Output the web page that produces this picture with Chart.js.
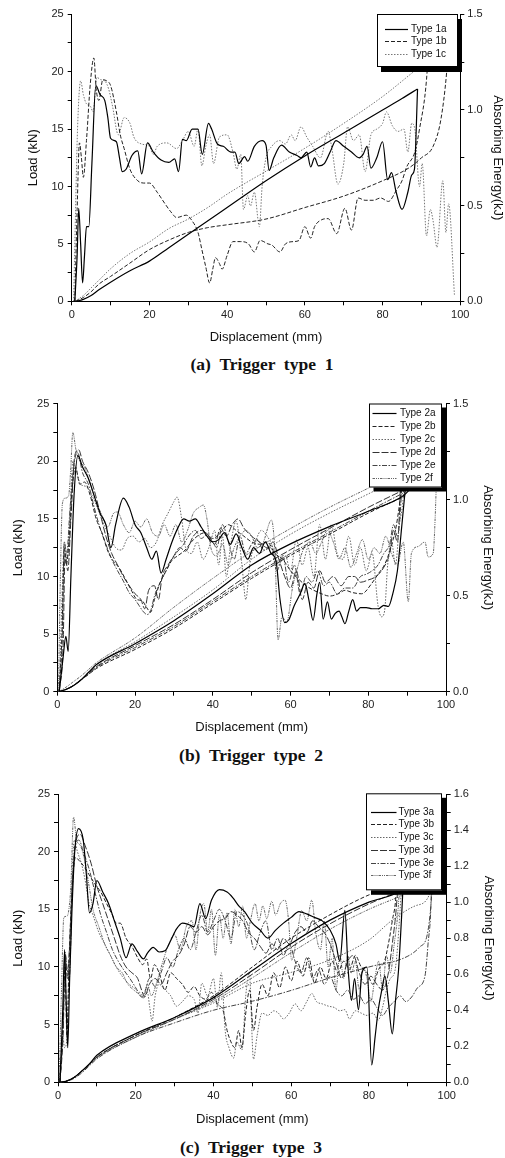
<!DOCTYPE html>
<html>
<head>
<meta charset="utf-8">
<script src="https://cdn.jsdelivr.net/npm/chart.js@4.4.1/dist/chart.umd.min.js"></script>
<style>
  body { margin: 0; background: #fff; width: 505px; height: 1158px; position: relative; overflow: hidden; }
  .panel { position: absolute; left: 0; width: 505px; }
  .cap { position: absolute; width: 200px; text-align: center; white-space: pre; font: bold 17.5px "Liberation Serif", "Times New Roman", serif; line-height: 20px; color: #111; }
</style>
</head>
<body>
<div class="panel" style="top:0;height:350px"><canvas id="chart1"></canvas></div>
<div class="cap" style="left:162px;top:354px">(a)  Trigger  type  1</div>
<div class="panel" style="top:380px;height:360px"><canvas id="chart2"></canvas></div>
<div class="cap" style="left:151px;top:745px">(b)  Trigger  type  2</div>
<div class="panel" style="top:770px;height:360px"><canvas id="chart3"></canvas></div>
<div class="cap" style="left:151px;top:1137px">(c)  Trigger  type  3</div>

<script>
// ---- trigger type 1 : [displacement mm, load kN] / [displacement mm, energy kJ]
const types1 = ['Type 1a', 'Type 1b', 'Type 1c'];
const load1a = [[0.8,0],[1.4,4],[1.8,8.1],[2.3,5],[2.8,1.6],[3.3,4],[3.8,6.5],[4.4,6.5],[5.2,12],[6.2,18.8],[7.3,18],[8.5,17.5],[9.3,16],[10,14.2],[11.5,13.9],[12.3,12.5],[13,11.3],[14,11.5],[15.5,12.7],[17,13.1],[18,11.1],[19.5,13.8],[21,13],[23,12.3],[25,12.1],[26.5,12.4],[27.5,11.3],[28.5,14.1],[29.5,14],[31,15],[32.5,15],[33.6,12.8],[35.2,15.5],[36,15],[37.5,13.7],[39,13.5],[41,13],[42,13],[43,12],[44.5,12.6],[45.3,12.2],[47,13.5],[49,14],[50,13.6],[50.8,11.4],[52,12.5],[54,13.6],[56,13],[58,12.7],[59,12.5],[60.5,13],[61.5,11.7],[62.5,12.5],[63.5,11.8],[65,12],[66.5,13],[68,14],[70,13.5],[72,13],[74,12.5],[75,12.8],[76,13.5],[77,11.6],[78.5,12.5],[80,13.9],[81.3,10.6],[82.3,11.2],[83.5,9.5],[85,8],[86.5,9.5],[87.5,11],[88.2,11.5],[89,18.5]];
const load1b = [[0.8,0],[1.4,8],[2,13.8],[2.5,12.5],[3,10.8],[3.8,14],[4.8,19],[5.7,21.2],[6.3,18.5],[7,17.5],[8,19.3],[9,19.2],[10,18.8],[11.5,16.5],[12.5,14.5],[13.5,13.3],[15,11.5],[17,10.5],[18.5,10.3],[20,10.3],[22,9.5],[24,8.5],[25.5,7.8],[27,7.3],[29.5,7.5],[31,7],[32.5,6],[33.5,4.5],[34.5,3],[35.5,1.6],[36.3,2.8],[37,3.8],[38,3.3],[38.7,2.8],[40,4],[41.5,5.2],[43.5,5.2],[45.5,5],[47,4.3],[48.5,5.3],[50.5,5],[51.5,4.9],[53.6,4.3],[55,5],[57,5.2],[58.5,5.3],[60,6.5],[61.5,5.5],[62.5,6.5],[64.3,7.1],[66,7.2],[68.2,5.9],[70.3,8.1],[72,6.2],[73.7,9],[75.5,8.8],[77.6,8.8],[79.5,9],[81.5,8.7],[83.6,9.7],[85,10.5],[86.2,11.7],[88.3,13],[89.5,15],[91.3,19.3],[92.3,25]];
const load1c = [[0.5,0],[1,8],[1.5,15],[2.3,19.2],[3,18],[3.8,17.2],[4.8,17],[5.5,16.5],[6.5,19.5],[7.5,19.3],[8.5,19.2],[9.5,18.5],[10.5,17],[12,14.5],[13.5,16],[15,15.5],[16,14.3],[18,13.7],[20,13.5],[21,12.8],[22,13.5],[24.5,13.8],[27,13.3],[28.5,14],[30,14.8],[31.5,13.5],[32.5,15],[33.5,11.8],[34.5,13.5],[35.5,14.5],[36.5,12],[38,14.3],[40,14.5],[41.5,13],[42.5,11.5],[43.5,12.8],[44.2,8],[45.3,9.2],[46,8.3],[47,9.5],[48.3,6.5],[49,10],[50,12.5],[51.5,13.5],[53.5,14],[55,13.7],[56.5,14.5],[57.5,14],[59,15.2],[60.5,14.3],[62,13.5],[64,12.5],[66,14.8],[67,13.2],[68.5,10.2],[70,12],[71,15.2],[72.5,14],[74,14.5],[75.5,11.3],[77,14.5],[78.5,15],[80,15.5],[81,16.5],[82.5,15.3],[84,14.8],[85.5,15],[86.5,13],[87.5,15.5],[88.3,15],[89.5,10],[90.2,12],[91.3,5.7],[92.3,8],[93,7],[94,4.7],[95.5,10.5],[96.3,6],[97,8.5],[98.5,0.5]];
const energy1a = [[1,0],[3,0.01],[5,0.03],[7,0.06],[10,0.1],[15,0.16],[20,0.21],[25,0.28],[30,0.35],[40,0.49],[50,0.63],[60,0.76],[70,0.88],[80,1.0],[85,1.06],[89,1.11]];
const energy1b = [[1,0],[3,0.02],[5,0.05],[7,0.09],[10,0.13],[15,0.2],[20,0.27],[25,0.32],[30,0.36],[35,0.385],[40,0.4],[50,0.43],[60,0.49],[70,0.55],[80,0.63],[87,0.7],[90,0.75],[93,0.81],[95,0.95],[96.5,1.2],[97.5,1.5]];
const energy1c = [[0.8,0],[3,0.03],[5,0.07],[7,0.11],[10,0.17],[15,0.25],[20,0.31],[25,0.38],[30,0.43],[35,0.49],[40,0.56],[50,0.68],[60,0.8],[70,0.93],[80,1.07],[88,1.2],[98,1.36]];

// ---- trigger type 2
const types2 = ['Type 2a', 'Type 2b', 'Type 2c', 'Type 2d', 'Type 2e', 'Type 2f'];
const load2a = [[0.5,0],[1.5,3],[2.2,4.8],[2.8,3.5],[3.5,10],[4.3,17],[5.3,20.5],[6.5,19.5],[8,18.5],[9.5,17],[11,15.5],[12.5,14.5],[13.8,12.5],[15,14.5],[17,16.8],[18.5,16],[20,14.5],[21.5,13.8],[23,12.5],[24.3,11.5],[25.5,12.2],[26.7,10.3],[28,11.5],[29.5,13],[31,14.2],[32.5,15],[34,14.8],[35.5,15],[37,14.3],[38.5,13.5],[40,13],[41.5,13.2],[43,13.8],[44.5,12.8],[46,13.7],[47.5,12.5],[49,11.5],[50.5,12.5],[52,12],[53.5,13],[55,12],[56.3,11.3],[57.3,8],[58.5,6],[59.5,6.2],[61,7.5],[62.5,8.5],[63.7,9.4],[64.7,8],[65.8,6.2],[66.8,8.5],[67.5,9.5],[68.4,6.3],[69.5,7.8],[70.5,6.3],[71.5,6.8],[72.5,7],[73.2,6.5],[74,5.9],[75,7],[76,8],[77,7],[78,7.3],[79.5,7.3],[81,7.2],[82.6,7.2],[84,7.5],[85.2,7.4],[86.3,8.5],[87.5,10.5],[88.6,14.3],[89.5,17.5],[90.5,21],[91.2,25]];
const load2b = [[0.5,0],[1.2,5],[1.8,12.5],[2.3,11],[3,13],[3.8,17.5],[4.7,19.5],[5.8,18],[7,18.2],[8.5,17],[10,15],[11.5,13.8],[13,12.2],[14.5,11.3],[15.8,10.8],[17.5,9.8],[19.2,8.7],[20.5,8],[21.8,7.9],[23,7.3],[24,6.9],[25,8],[26.5,9.5],[28,10.5],[29.5,11.4],[31,11.8],[32.9,12.3],[34.5,13],[36,13.5],[38,13.8],[40,13.3],[42,13.8],[44,14.5],[46,14],[48,13.5],[50,13],[52,12.8],[54,13],[56,12],[58,11.5],[60,10.5],[62,9.8],[64,9.2],[66,8.8],[68,8.5],[70,8.3],[72.3,8.5],[74,8.8],[76,8.6],[78.3,8.5],[80.9,9.4],[82.5,10.2],[84.3,11.1],[86.4,13.2],[87.5,15],[88.5,18],[89.5,25]];
const load2c = [[0.5,0],[1.2,8],[1.8,13],[2.5,11.5],[3.2,15],[4,20],[5,19],[6,18],[7.5,17.8],[9,17],[10.5,15.8],[12,14.5],[13.5,13.5],[15,12.5],[16.5,12.3],[18,13.3],[19.5,13.5],[21,13],[22.5,13.3],[24,12.5],[25.5,13],[27,14.5],[28.5,15.5],[30,16.5],[30.8,16.9],[32,15],[33,12.5],[34.5,12],[36,13],[37.5,11.5],[39,12.5],[40.5,14],[41.5,11],[42.5,13.5],[43.5,10],[44.5,12.5],[46,14.8],[47.5,11],[48.5,8],[49.5,11],[51,13],[52.5,14],[54,13.5],[55.5,12.5],[57,11],[58.5,12],[60,10.5],[61.5,13.2],[63,11],[64.5,12.5],[66,10],[67.5,14.5],[69,11.5],[70.5,14.5],[72,12],[73.5,11.5],[75,13.5],[76.5,11],[78,12.5],[79.5,10.5],[81,12],[82.5,7.5],[83.4,6.5],[84.2,7],[85,11],[86,13],[87,11],[88,14.5],[89,17],[90,25]];
const load2d = [[0.5,0],[1.5,4],[2,12],[2.7,10.5],[3.5,15],[4.5,20.5],[5.5,21],[6.5,20],[8,19],[9.5,17.5],[11,15.5],[12.5,13.5],[14,12],[15.5,11],[17,10],[18.5,9.2],[20,8.5],[21.5,8],[22.5,7.2],[23.5,8.8],[25,9.2],[26,8],[27,10],[28.5,11],[30,11.8],[31.5,12.5],[33,12.2],[35,13.5],[37,14],[39,13.5],[40.5,12.8],[42,14.2],[43.5,13.5],[45,14.5],[46.5,15],[48,14.2],[50,13.5],[52,13],[54,12.5],[55.5,13],[57,11.5],[58.5,10],[60,9],[61.5,10.5],[63,8],[64.5,9.5],[66,9],[67.5,10.5],[69,9.5],[71,10],[73,9.2],[75,10],[76.5,10],[78,9.5],[80,9.7],[82,10],[84,10.8],[85.5,12],[86.5,14],[87.5,13],[88.3,18],[89,25]];
const load2e = [[0.5,0],[1.3,5],[1.8,13],[2.4,12],[3.3,16],[4.2,19.5],[5.2,20.8],[6.5,19],[8,18],[9.5,16],[11,14.2],[12.5,12.8],[14,11.5],[15.5,10.5],[17,9.6],[18.5,8.6],[20,8],[21,7.5],[22,7],[23.1,6.7],[24,7],[25,8.3],[26.5,9.5],[28,10.5],[29.5,11.5],[31,12.2],[32.5,12.8],[34,13.6],[35.5,14],[37,13.3],[38.5,13.6],[40,13],[41,12.5],[42.5,14.5],[44,13],[45.5,11.5],[47,13.5],[48.5,12],[50,12.8],[51.5,13.2],[53,12.3],[55,12.5],[56.5,10.5],[58,11.8],[59.5,9.5],[61,11],[62.5,8.5],[64,10],[65.5,9.5],[67,10.5],[68.5,9.2],[70,9.5],[72,8.5],[74,9],[76,9],[78,10],[79.5,10.2],[81,10.5],[82.5,11],[84,12],[85.5,12.8],[86.5,14.5],[87.5,13.5],[88.5,17],[89.5,25]];
const load2f = [[0.3,0],[0.8,10],[1.3,16.3],[2,16.8],[2.9,17],[3.4,19],[4,22.5],[4.8,21],[5.8,20],[7,19.5],[8.5,18],[10,16.5],[11.5,15.3],[13,14.3],[14.5,15.5],[15.5,15.6],[17,14.5],[18.5,13.8],[20,14.8],[21.5,14.3],[23,15],[24.5,13.8],[26,13.5],[27.5,14.5],[29,13.5],[30.5,14.5],[32,13],[33.5,14],[35,15.5],[36.5,16],[37.6,16.2],[38.5,15],[39.5,12.5],[41,11.8],[42.5,12.8],[44,11],[45.5,12.5],[47,13.5],[48.5,14],[50,13.5],[51.5,12.5],[53,13],[55.1,14.9],[56,12],[56.8,4.5],[57.8,6.5],[59,6],[60.5,9],[62,11],[63.5,12.5],[65,13],[66.5,12],[68,13],[69.5,14],[71,13],[72.5,11.5],[74,12.5],[75.5,10.8],[77,12],[78.5,13.2],[80,11.5],[81.5,12.5],[83,12],[84.5,13.5],[86,12],[87.5,11],[89,13],[90.3,7.8],[91.1,12],[92.8,12.6],[94.6,13],[95.4,11.7],[96.7,12],[97.2,15],[97.6,19.2],[98,25]];
const energy2a = [[0.5,0],[2,0.01],[4,0.03],[6,0.06],[8,0.1],[10,0.14],[20,0.25],[30,0.37],[40,0.51],[50,0.66],[60,0.77],[70,0.86],[80,0.94],[89,1.02],[91,1.06]];
const energy2b = [[0.5,0],[2,0.01],[4,0.03],[6,0.06],[8,0.09],[10,0.12],[20,0.22],[30,0.33],[40,0.46],[50,0.59],[60,0.71],[70,0.82],[80,0.93],[89.5,1.02]];
const energy2c = [[0.5,0],[2,0.01],[4,0.03],[6,0.06],[8,0.1],[10,0.14],[20,0.26],[30,0.39],[40,0.53],[50,0.69],[60,0.82],[70,0.93],[80,1.03],[90,1.13]];
const energy2d = [[0.5,0],[2,0.01],[4,0.03],[6,0.06],[8,0.095],[10,0.13],[20,0.24],[30,0.35],[40,0.48],[50,0.62],[60,0.74],[70,0.85],[80,0.96],[89,1.05]];
const energy2e = [[0.5,0],[2,0.01],[4,0.03],[6,0.06],[8,0.09],[10,0.125],[20,0.23],[30,0.34],[40,0.47],[50,0.6],[60,0.72],[70,0.83],[80,0.94],[89.5,1.04]];
const energy2f = [[0.3,0],[2,0.02],[4,0.05],[6,0.08],[8,0.115],[10,0.15],[20,0.28],[30,0.44],[40,0.59],[50,0.73],[60,0.85],[70,0.96],[80,1.06],[90,1.16],[98,1.24]];

// ---- trigger type 3
const types3 = ['Type 3a', 'Type 3b', 'Type 3c', 'Type 3d', 'Type 3e', 'Type 3f'];
const load3a = [[0.5,0],[1.2,6],[1.7,11.5],[2.1,7],[2.5,3],[3,9],[3.6,15],[4.3,20],[5.3,22],[6.5,21],[7.3,18],[8.1,14.7],[9,15.5],[10,17.5],[11.5,16.5],[13,15.5],[14.5,14],[16,12.5],[17.5,10.8],[19,12],[20.5,11.3],[22,10.7],[23,11.2],[24.5,11.7],[26,11.3],[27.5,11.4],[29,12.3],[30.5,13.3],[32,13.8],[33.5,13.7],[35,13.5],[36.5,15.5],[38,14.2],[39.5,15.8],[41.5,16.7],[43.5,16.5],[45,16],[46.5,15.3],[48,14.8],[50,13.8],[52,13.2],[54,12.5],[56,13.2],[58,13.8],[60,14.3],[62,14.8],[64,14.6],[66,14.3],[68,14],[70,13.2],[71.5,12],[72.5,10.5],[73.8,14.9],[74.6,10],[75.5,7.1],[76.3,9],[77.3,6.3],[78.2,9.5],[79.5,10],[80.7,1.5],[81.6,4],[82.4,6.3],[83.3,8],[84.1,9.2],[85,7],[86,4.2],[86.8,7],[87.6,9.7],[88.4,14.4],[89.2,20],[89.8,25]];
const load3b = [[0.5,0],[1.3,5],[1.8,10],[2.3,4],[2.8,10],[3.5,16],[4.5,19.5],[5.5,19.2],[6.5,18.8],[8,18],[9.5,17.2],[11,16.5],[12.5,15.5],[14,14.5],[15,13.8],[16,13.8],[17.5,12.5],[19,11.8],[20.5,10.8],[21.8,10.2],[22.8,10.7],[23.8,9],[24.8,10.2],[26,9.5],[27.5,8],[29,9.5],[30.5,9],[32,8.5],[33.5,7.8],[35,8.3],[36.5,7.5],[38,7.2],[39.5,7.8],[41,6.8],[42.5,6.2],[43.5,4.5],[44.5,3.5],[45.5,3],[46.5,4.5],[47.3,3],[48.3,6],[49.3,8],[50.3,4.5],[51.2,6.5],[52.5,8.5],[54,7.5],[55.5,9.5],[57,8.2],[58.5,10],[60,8.8],[61.5,10.5],[63,9.2],[64.5,10.8],[66,8.6],[67.5,10],[69,9],[70.5,10.5],[72,9.5],[73.5,10.5],[75,9.8],[76.5,11],[78,10],[79.5,9.5],[81,8.5],[82.5,9.8],[84,10.5],[85,12],[86,14],[87,16.5],[88,25]];
const load3c = [[0.5,0],[1.2,4],[1.7,3],[2.2,3.5],[2.8,9],[3.5,17],[4.2,21],[5,20],[6,19],[7,17.5],[8,15.5],[9,14.5],[10.5,13],[12,12],[13.5,11],[15,10],[16.5,9.2],[18,8.6],[19.5,8.2],[21,7.8],[22,7.4],[23,7.8],[23.6,6.5],[24.2,5.3],[25,7.5],[26,8.5],[27.6,8],[29,7.5],[30.5,6.6],[32,7],[33.5,7.5],[35,7.2],[36,6],[37,8.6],[38.5,7.5],[40,9],[41,6.5],[42,9.5],[43,4.5],[44,3],[45.2,2.1],[46,3.5],[47.3,2.8],[48.3,7.5],[49.2,9.5],[50.3,2],[51.2,4],[52.5,6],[54,5.8],[55.5,6.2],[56.7,6],[58,5.5],[59.5,6],[61,6.8],[62.5,6.2],[64,7],[65.3,7.7],[66.5,7],[68,6.8],[69.6,6.6],[71,6.5],[72.5,6.2],[73.8,6.3],[75,5.5],[76.5,6.2],[78,6],[79.5,5.8],[81,6],[82.4,5.4],[83.5,6.5],[84.5,8],[85.5,9],[86.7,9.7],[88,14.9],[88.8,20],[89.5,25]];
const load3d = [[0.5,0],[1.3,4],[1.9,11],[2.4,9],[3,12],[3.8,18],[4.7,21],[5.7,21.5],[7,20.5],[8.5,19],[10,17],[11.5,15.5],[13,14],[14.5,12.5],[16,11],[17.5,10],[19,9.5],[20.5,9],[21.5,8],[22.3,7.4],[23.5,8.5],[25,9],[26.5,8.5],[28,9.5],[29.5,10.5],[31,11],[32.5,12],[34,13.5],[35.5,13],[37,13.5],[38.5,12.8],[40,13.5],[41.5,14],[43,14.2],[44.5,14.8],[46,14.5],[47.5,14],[49,13],[50.5,12.5],[52,11.8],[53.5,11.2],[55,12],[56.5,11.5],[58,12.5],[59.5,12],[61,13],[62.5,13.5],[64,13],[65.5,14],[67,13.5],[68.5,13],[70,12],[71.5,10.5],[73,9],[74.5,10.5],[76,11],[77.5,9.5],[79,8.5],[80.5,9.2],[82,8.5],[83.5,8],[85,9.5],[86,12],[87,15],[88,20],[88.7,25]];
const load3e = [[0.5,0],[1.2,4],[1.8,11.3],[2.3,10],[2.9,9],[3.6,16],[4.4,20.5],[5.4,21],[6.5,20],[8,18.5],[9.5,16.5],[11,14.5],[12.5,13],[14,11.5],[15.5,10.5],[17,9.7],[18.5,9],[20,8.2],[21.5,7.4],[22.5,8],[23.5,9],[25,8.3],[26.5,9.5],[28,10.8],[29.5,10],[31,11.5],[32.5,12.5],[34,11.5],[35.5,13],[37,14.5],[38.5,13],[40,14],[41.5,15],[43,14],[44.5,12.5],[46,14.8],[47.5,14.5],[49,13.5],[50.5,11.5],[52,13],[53.5,14],[55,11.5],[56.5,12.5],[58,11],[59.5,12],[61,10.5],[62.5,9.5],[64,10.8],[65.5,9],[67,9.8],[68.5,8.5],[70,9.2],[71.5,8],[73,7.5],[74.5,8],[76,7.2],[77.5,7.5],[79,6.8],[80.5,7.2],[82,6.5],[83.5,5.8],[85,6.5],[86.5,7],[88,7.5],[89.5,7],[91,7.4],[92.5,8.2],[94.4,9.2],[95.2,12],[96,16],[96.5,25]];
const load3f = [[0.3,0],[0.9,8],[1.5,14.3],[2.3,14.4],[2.8,15],[3.3,17],[4,23],[4.8,21],[5.8,20.5],[7,19],[8,17],[9,15],[10.5,13.5],[12,12],[13.5,11],[15,10],[16.5,9.5],[18,8.5],[19.5,8],[21,7.6],[22,7.3],[23,8.5],[24,7.5],[25.5,8.8],[27,10.5],[28.5,12],[30,12.8],[31.5,11.5],[33,13.5],[34.5,14],[35.5,11.5],[36.5,14.5],[37.5,15.5],[38.5,13],[39.5,15],[40.5,11],[41.5,14.5],[42.5,12.5],[43.5,14.7],[44.5,12],[45.5,15],[46.5,13.5],[47.5,15.3],[48.5,12.5],[49.5,14],[50.7,15.5],[51.7,14],[52.7,15.3],[53.7,14.2],[55,15.7],[56,14.5],[57.2,15.5],[58.4,15.8],[59.3,14.1],[60.1,10.6],[61.4,12.5],[62.7,14.9],[64,14],[65.3,15.8],[66.3,13],[67.5,11.5],[68.5,14],[69.5,10],[70.5,12.5],[71.5,8],[72.5,11],[73.5,9],[74.5,11],[75.5,9.5],[76.5,10.5],[77.5,8],[78.5,10],[79.5,9],[80.5,7],[81.5,9],[82.5,10.5],[83.5,8],[84.5,11],[85.5,9.5],[86.5,12],[87.5,15],[88.3,20],[89,25]];
const energy3a = [[0.5,0],[2,0.005],[4,0.025],[6,0.06],[8,0.1],[10,0.15],[20,0.27],[30,0.36],[40,0.47],[50,0.62],[60,0.77],[70,0.9],[80,1.0],[88,1.06],[90,1.1]];
const energy3b = [[0.5,0],[2,0.005],[4,0.025],[6,0.06],[8,0.1],[10,0.14],[20,0.26],[30,0.36],[40,0.48],[50,0.64],[60,0.8],[70,0.93],[80,1.04],[88,1.1]];
const energy3c = [[0.5,0],[2,0.005],[4,0.025],[6,0.06],[8,0.1],[10,0.14],[20,0.26],[30,0.35],[40,0.44],[50,0.55],[60,0.61],[70,0.68],[80,0.79],[86,0.9],[92,0.98],[95.5,1.04],[96.5,1.2]];
const energy3d = [[0.5,0],[2,0.005],[4,0.025],[6,0.06],[8,0.1],[10,0.14],[20,0.26],[30,0.35],[40,0.46],[50,0.6],[60,0.75],[70,0.88],[80,0.99],[89,1.07]];
const energy3e = [[0.5,0],[2,0.005],[4,0.02],[6,0.05],[8,0.09],[10,0.13],[20,0.25],[30,0.33],[40,0.4],[50,0.45],[60,0.51],[70,0.58],[80,0.64],[90,0.7],[93,0.75],[95,0.82],[96,1.0],[96.8,1.3]];
const energy3f = [[0.5,0],[2,0.005],[4,0.025],[6,0.06],[8,0.095],[10,0.135],[20,0.25],[30,0.35],[40,0.45],[50,0.58],[60,0.72],[70,0.85],[80,0.96],[89,1.04]];

// line look for curve a..f
const styles = [
  { color: '#000', dash: [], width: 1.2 },
  { color: '#222', dash: [4, 2], width: 1 },
  { color: '#666', dash: [1.5, 1.5], width: 1 },
  { color: '#333', dash: [7, 2], width: 1 },
  { color: '#444', dash: [5, 1.5, 1.5, 1.5], width: 1 },
  { color: '#666', dash: [2.5, 1, 1, 1, 1, 1], width: 1 }
];
const styles1 = [styles[0], styles[1], { color: '#777', dash: [1.5, 1.5], width: 1 }];

Chart.defaults.font.family = '"Liberation Sans", Arial, sans-serif';
Chart.defaults.color = '#222';

const toXY = (pairs) => pairs.map(p => ({ x: p[0], y: p[1] }));

const boxLegend = {
  id: 'boxLegend',
  afterDraw(chart, args, o) {
    const ctx = chart.ctx;
    ctx.save();
    ctx.fillStyle = '#000';
    ctx.fillRect(o.x + o.dx, o.y + o.dy, o.w, o.h);
    ctx.fillStyle = '#fff';
    ctx.fillRect(o.x, o.y, o.w, o.h);
    ctx.strokeStyle = '#000';
    ctx.lineWidth = 1;
    ctx.strokeRect(o.x + 0.5, o.y + 0.5, o.w - 1, o.h - 1);
    ctx.font = '10px "Liberation Sans", Arial, sans-serif';
    ctx.textBaseline = 'middle';
    o.labels.forEach((label, i) => {
      const st = o.styles[i];
      const y = Math.round(o.rowY + i * o.rowStep) + 0.5;
      ctx.beginPath();
      ctx.setLineDash(st.dash);
      ctx.strokeStyle = st.color;
      ctx.lineWidth = st.width;
      ctx.moveTo(o.lineX1, y);
      ctx.lineTo(o.lineX2, y);
      ctx.stroke();
      ctx.setLineDash([]);
      ctx.fillStyle = '#111';
      ctx.fillText(label, o.textX, y);
    });
    ctx.restore();
  }
};

function makeChart(id, p) {
  const sets = [];
  p.types.forEach((t, i) => {
    const st = p.styles[i];
    const common = { showLine: true, pointRadius: 0, borderColor: st.color, borderDash: st.dash,
      borderWidth: st.width, cubicInterpolationMode: 'monotone', fill: false };
    sets.push(Object.assign({ label: t, data: toXY(p.loads[i]), yAxisID: 'y' }, common));
    sets.push(Object.assign({ label: t + ' energy', data: toXY(p.energies[i]), yAxisID: 'y1' }, common));
  });
  const grid = { drawOnChartArea: false, drawTicks: true, tickLength: 4, color: '#000' };
  const border = { color: '#000', width: 1 };
  const titleFont = { size: 13 };
  return new Chart(document.getElementById(id), {
    type: 'scatter',
    data: { datasets: sets },
    options: {
      responsive: true,
      maintainAspectRatio: false,
      animation: false,
      devicePixelRatio: 1,
      layout: { padding: { top: p.top, left: 0, right: 0, bottom: 0 } },
      plugins: { legend: { display: false }, tooltip: { enabled: false }, boxLegend: p.legend },
      scales: {
        x: {
          type: 'linear', min: 0, max: 100,
          grid: grid, border: border,
          ticks: { stepSize: 10, autoSkip: false, maxRotation: 0, padding: 3, font: { size: 11 },
            callback: (v) => (v % 20 === 0 ? String(v) : '') },
          title: { display: true, text: 'Displacement (mm)', font: titleFont, color: '#111', padding: { top: 0, bottom: p.xPad } },
          afterFit: (s) => { s.height = p.xH; }
        },
        y: {
          position: 'left', min: 0, max: 25,
          grid: grid, border: border,
          ticks: { stepSize: 2.5, autoSkip: false, padding: 4, font: { size: 11 },
            callback: (v) => (v % 5 === 0 ? String(v) : '') },
          title: { display: true, text: 'Load (kN)', font: titleFont, color: '#111', padding: { top: p.yPad, bottom: 0 } },
          afterFit: (s) => { s.width = p.yW; }
        },
        y1: {
          position: 'right', min: 0, max: p.eMax,
          grid: grid, border: border,
          ticks: { stepSize: p.eStep, autoSkip: false, padding: 3, font: { size: 11 },
            callback: (v) => (Math.abs(v / p.eLabel - Math.round(v / p.eLabel)) < 1e-6 ? v.toFixed(1) : '') },
          title: { display: true, text: 'Absorbing Energy(kJ)', font: titleFont, color: '#111', padding: { top: p.y1Pad, bottom: 0 } },
          afterFit: (s) => { s.width = p.y1W; }
        }
      }
    },
    plugins: [boxLegend]
  });
}

makeChart('chart1', {
  types: types1, styles: styles1,
  loads: [load1a, load1b, load1c], energies: [energy1a, energy1b, energy1c],
  top: 14.3, yW: 71.7, y1W: 44.7, xH: 48.7, xPad: 4.5, yPad: 25.5, y1Pad: 0,
  eMax: 1.5, eStep: 0.25, eLabel: 0.5,
  legend: { x: 377, y: 14, w: 81, h: 53, dx: 4, dy: 5, labels: types1, styles: styles1,
    rowY: 29, rowStep: 12.4, lineX1: 385, lineX2: 408, textX: 411 }
});

makeChart('chart2', {
  types: types2, styles: styles,
  loads: [load2a, load2b, load2c, load2d, load2e, load2f],
  energies: [energy2a, energy2b, energy2c, energy2d, energy2e, energy2f],
  top: 23.7, yW: 57.3, y1W: 59, xH: 48.3, xPad: 4.5, yPad: 10.5, y1Pad: 9.9,
  eMax: 1.5, eStep: 0.25, eLabel: 0.5,
  legend: { x: 369, y: 23.5, w: 73, h: 84, dx: 4.5, dy: 4, labels: types2, styles: styles,
    rowY: 33.3, rowStep: 13, lineX1: 372.5, lineX2: 396.5, textX: 400 }
});

makeChart('chart3', {
  types: types3, styles: styles,
  loads: [load3a, load3b, load3c, load3d, load3e, load3f],
  energies: [energy3a, energy3b, energy3c, energy3d, energy3e, energy3f],
  top: 24, yW: 58, y1W: 58.3, xH: 47.7, xPad: 3.2, yPad: 10.5, y1Pad: 8.9,
  eMax: 1.6, eStep: 0.1, eLabel: 0.2,
  legend: { x: 366, y: 23.3, w: 76, h: 97, dx: 5, dy: 4.5, labels: types3, styles: styles,
    rowY: 41.7, rowStep: 12.7, lineX1: 371, lineX2: 396.5, textX: 398.5 }
});
</script>
</body>
</html>
